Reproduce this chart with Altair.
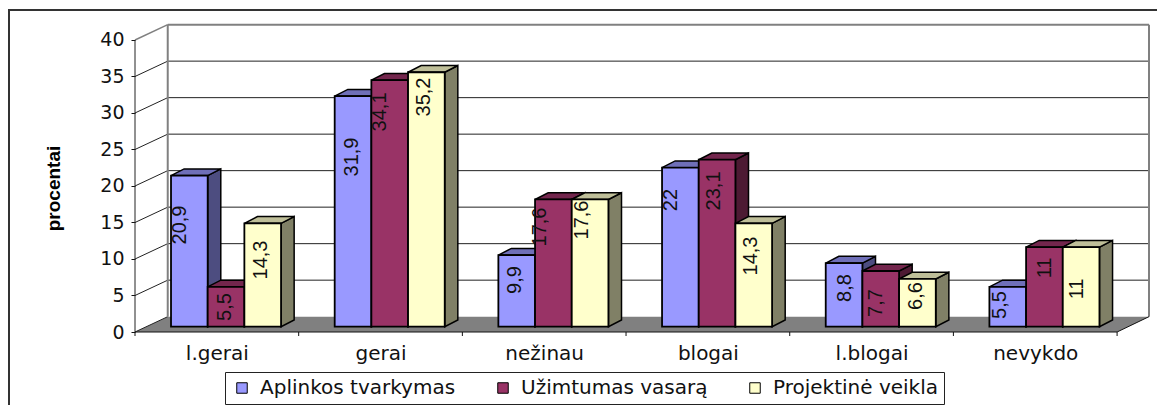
import altair as alt
import pandas as pd

categories = ["l.gerai", "gerai", "nežinau", "blogai", "l.blogai", "nevykdo"]
series_names = ["Aplinkos tvarkymas", "Užimtumas vasarą", "Projektinė veikla"]
aplinkos = [20.9, 31.9, 9.9, 22, 8.8, 5.5]
uzimtumas = [5.5, 34.1, 17.6, 23.1, 7.7, 11]
projektine = [14.3, 35.2, 17.6, 14.3, 6.6, 11]
series_values = [aplinkos, uzimtumas, projektine]
y_ticks = [0, 5, 10, 15, 20, 25, 30, 35, 40]

# where each value label sits, in axis units
label_x = [[0.275, 1.326, 2.322, 3.275, 4.338, 5.285],
           [0.55, 1.497, 2.474, 3.538, 4.527, 5.56],
           [0.77, 1.766, 2.731, 3.764, 4.772, 5.755]]
label_y = [[14.66, 23.97, 7.12, 18.08, 6.03, 3.7],
           [3.42, 30.14, 14.38, 19.32, 3.97, 8.77],
           [9.86, 32.19, 15.34, 10.41, 4.93, 5.89]]

front = ["#9999FF", "#993366", "#FFFFCC"]
top = ["#6F6FB8", "#73264D", "#BFBF99"]
side = ["#4D4D80", "#4D1A33", "#808066"]

X_MAX, Y_MAX = 6.195, 42.05
WALL_DX, WALL_DY = 0.2, 2.1
BAR_OFF, BAR_W = 0.22, 0.2241
BAR_DX, BAR_DY, BAR_BASE = 0.08, 0.92, 0.73
PERSPECTIVE = 0.99
FONT = "DejaVu Sans"

names_js = "[" + ",".join(f"'{c}'" for c in categories) + "]"
xs = alt.Scale(domain=[0, X_MAX], nice=False, zero=False)
ys = alt.Scale(domain=[0, Y_MAX], nice=False, zero=False)
x_axis = alt.Axis(
    values=[i + 0.5 for i in range(6)], grid=False, domain=False, ticks=False,
    labelExpr=f"{names_js}[floor(datum.value)]", labelFont=FONT, labelFontSize=20,
    labelColor="#111", labelPadding=11, title=None)
y_axis = alt.Axis(
    values=y_ticks, grid=False, domain=False, tickSize=4, tickColor="#111",
    labelFont=FONT, labelFontSize=19, labelColor="#111", labelPadding=7,
    title="procentai", titleFont="Liberation Sans", titleFontWeight="bold", titleFontSize=19,
    titleColor="#000", titleX=-72, titleY=163)
X = alt.X("x:Q", scale=xs, axis=x_axis)
Y = alt.Y("y:Q", scale=ys, axis=y_axis)

floor = pd.DataFrame({
    "x": [0, WALL_DX, 6, X_MAX],
    "y": [0, WALL_DY, WALL_DY, WALL_DY],
    "y2": [0, 0, 0, WALL_DY],
})
layers = [alt.Chart(floor).mark_area(color="#808080", opacity=1).encode(x=X, y=Y, y2="y2:Q")]

# back wall grid
grid = pd.DataFrame({"v": [5, 10, 15, 20, 25, 30, 35]})
grid["y"] = grid["v"] + WALL_DY
grid["x"] = WALL_DX
grid["x2"] = X_MAX
layers.append(alt.Chart(grid).mark_rule(color="#222", strokeWidth=1).encode(x=X, x2="x2:Q", y=Y))

# left wall slanted lines
rows = []
for v in y_ticks:
    rows.append({"k": v, "x": 0, "y": v})
    rows.append({"k": v, "x": WALL_DX, "y": v + WALL_DY})
slant = pd.DataFrame(rows)
layers.append(alt.Chart(slant[slant.k < 40]).mark_line(color="#222", strokeWidth=1).encode(x=X, y=Y, detail="k:N"))
layers.append(alt.Chart(slant[slant.k == 40]).mark_line(color="#808080", strokeWidth=1.5).encode(x=X, y=Y))

# wall frame
wall_color = "#808080"
layers.append(alt.Chart(pd.DataFrame({"x": [WALL_DX, X_MAX], "y": [WALL_DY, WALL_DY], "y2": [40 + WALL_DY] * 2}))
              .mark_rule(color=wall_color, strokeWidth=2).encode(x=X, y=Y, y2="y2:Q"))
layers.append(alt.Chart(pd.DataFrame({"x": [WALL_DX], "x2": [X_MAX], "y": [40 + WALL_DY]}))
              .mark_rule(color=wall_color, strokeWidth=2).encode(x=X, x2="x2:Q", y=Y))

# front axis lines
layers.append(alt.Chart(pd.DataFrame({"x": [0], "y": [0], "y2": [40]})).mark_rule(color="#222", strokeWidth=1).encode(x=X, y=Y, y2="y2:Q"))
layers.append(alt.Chart(pd.DataFrame({"x": [0], "x2": [6], "y": [0]})).mark_rule(color="#111", strokeWidth=1.2).encode(x=X, x2="x2:Q", y=Y))
layers.append(alt.Chart(pd.DataFrame({"x": [6, X_MAX], "y": [0, WALL_DY]})).mark_line(color="#111", strokeWidth=1).encode(x=X, y=Y))
layers.append(alt.Chart(pd.DataFrame({"x": list(range(0, 7))})).mark_rule(color="#111", strokeWidth=1).encode(
    x=X, y=alt.value(307), y2=alt.value(311)))

legend = alt.Legend(
    title=None, orient="none", legendX=90, legendY=347, direction="horizontal",
    symbolType="square", symbolSize=110, symbolStrokeColor="#000", symbolStrokeWidth=1,
    labelFont=FONT, labelFontSize=20, labelColor="#111", labelLimit=400,
    fillColor="#FFFFFF", strokeColor="#222", padding=6, columnPadding=36, symbolOffset=1,
    labelOffset=8, values=series_names)
color = alt.Color("series:N", legend=legend, scale=alt.Scale(domain=series_names, range=front))

for s, vals in enumerate(series_values):
    side_rows, top_rows, front_rows = [], [], []
    for i, v in enumerate(vals):
        xl = i + BAR_OFF + s * BAR_W
        xr = xl + BAR_W
        t = v * PERSPECTIVE + BAR_BASE
        side_rows += [
            {"k": i, "x": xr, "y": t, "y2": BAR_BASE},
            {"k": i, "x": xr + BAR_DX, "y": t + BAR_DY, "y2": BAR_BASE + BAR_DY},
        ]
        top_rows += [
            {"k": i, "x": xl, "y": t, "y2": t},
            {"k": i, "x": xl + BAR_DX, "y": t + BAR_DY, "y2": t},
            {"k": i, "x": xr, "y": t + BAR_DY, "y2": t},
            {"k": i, "x": xr + BAR_DX, "y": t + BAR_DY, "y2": t + BAR_DY},
        ]
        front_rows.append({"series": series_names[s], "x": xl, "x2": xr, "y": t, "y2": BAR_BASE})
    layers.append(alt.Chart(pd.DataFrame(side_rows)).mark_area(
        fill=side[s], stroke="#000", strokeWidth=1.5, opacity=1).encode(x=X, y=Y, y2="y2:Q", detail="k:N"))
    layers.append(alt.Chart(pd.DataFrame(top_rows)).mark_area(
        fill=top[s], stroke="#000", strokeWidth=1.5, opacity=1).encode(x=X, y=Y, y2="y2:Q", detail="k:N"))
    layers.append(alt.Chart(pd.DataFrame(front_rows)).mark_rect(
        stroke="#000", strokeWidth=1.8, opacity=1).encode(x=X, x2="x2:Q", y=Y, y2="y2:Q", color=color))

label_rows = []
for s, vals in enumerate(series_values):
    for i, v in enumerate(vals):
        label_rows.append({"x": label_x[s][i], "y": label_y[s][i], "t": str(v).replace(".", ",")})
layers.append(alt.Chart(pd.DataFrame(label_rows)).mark_text(
    angle=270, font="Liberation Sans", fontSize=20, color="#111", align="center", baseline="middle"
).encode(x=X, y=Y, text="t:N"))

# outer frame
one = alt.Chart(pd.DataFrame({"a": [0]}))
layers.append(one.mark_rule(color="#333", strokeWidth=2).encode(x=alt.value(-126), y=alt.value(-15), y2=alt.value(380)))
layers.append(one.mark_rule(color="#333", strokeWidth=2).encode(x=alt.value(-127), x2=alt.value(1030), y=alt.value(-15)))

chart = alt.layer(*layers).properties(
    width=1014, height=307,
    padding={"left": 127, "top": 17, "right": 8, "bottom": 73},
    autosize=alt.AutoSizeParams(type="none"),
    background="white",
).configure_view(stroke=None)

chart.save("out.html", embed_options={"renderer": "svg", "actions": False})
